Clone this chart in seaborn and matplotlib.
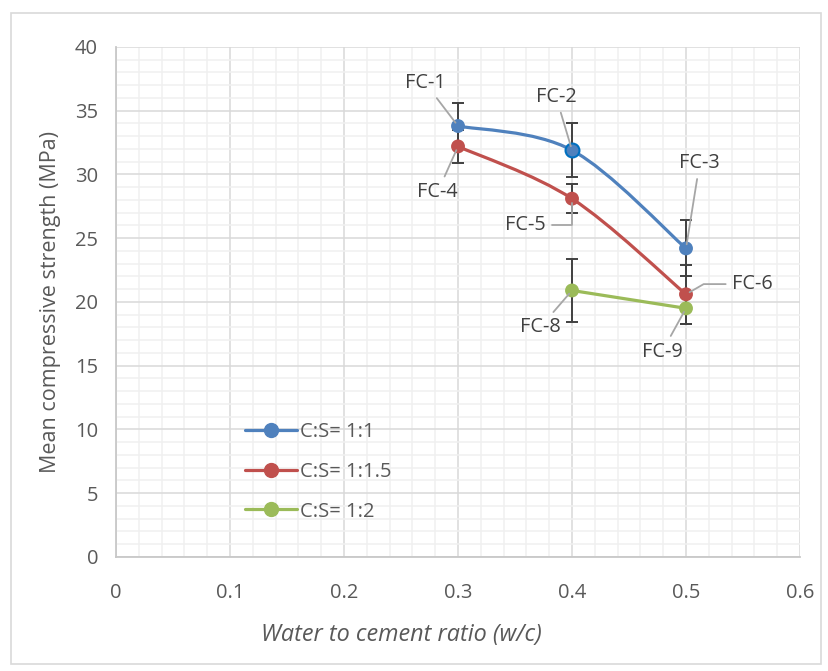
import numpy as np
import pandas as pd
import seaborn as sns
import matplotlib.pyplot as plt
from matplotlib.path import Path
from matplotlib.patches import PathPatch, Rectangle
from matplotlib.lines import Line2D
from matplotlib.ticker import MultipleLocator

# data
wc = [0.3, 0.4, 0.5]
cs_11 = [33.8, 31.9, 24.2]
cs_11_err = [1.8, 2.1, 2.2]
cs_115 = [32.2, 28.1, 20.6]
cs_115_err = [1.3, 1.15, 2.3]
wc_12 = [0.4, 0.5]
cs_12 = [20.9, 19.5]
cs_12_err = [2.5, 1.2]

series_names = ['C:S= 1:1', 'C:S= 1:1.5', 'C:S= 1:2']
labels_11 = ['FC-1', 'FC-2', 'FC-3']
labels_115 = ['FC-4', 'FC-5', 'FC-6']
labels_12 = ['FC-8', 'FC-9']

colors = ['#4F81BD', '#C0504D', '#9BBB59']
txt_color = '#595959'

df = pd.concat([
    pd.DataFrame({'wc': wc, 'strength': cs_11, 'err': cs_11_err, 'mix': series_names[0], 'label': labels_11}),
    pd.DataFrame({'wc': wc, 'strength': cs_115, 'err': cs_115_err, 'mix': series_names[1], 'label': labels_115}),
    pd.DataFrame({'wc': wc_12, 'strength': cs_12, 'err': cs_12_err, 'mix': series_names[2], 'label': labels_12}),
], ignore_index=True)

sns.set_theme(style='white')
plt.rcParams['font.family'] = ['Open Sans', 'DejaVu Sans']

fig = plt.figure(figsize=(8.29, 6.71), dpi=100)
ax = fig.add_axes([0.14, 0.17, 0.825, 0.76])

# outer chart border
fig.patches.append(Rectangle((0.013, 0.01), 0.977, 0.97, transform=fig.transFigure,
                             fill=False, edgecolor='#D9D9D9', lw=1.2))


def smooth_path(xs, ys):
    # Excel-style smoothed line (Catmull-Rom turned into Bezier segments)
    pts = np.column_stack([xs, ys])
    verts = [pts[0]]
    codes = [Path.MOVETO]
    for i in range(len(pts) - 1):
        p0 = pts[max(i - 1, 0)]
        p1 = pts[i]
        p2 = pts[i + 1]
        p3 = pts[min(i + 2, len(pts) - 1)]
        verts += [p1 + (p2 - p0) / 6, p2 - (p3 - p1) / 6, p2]
        codes += [Path.CURVE4] * 3
    return Path(verts, codes)


for name, col in zip(series_names, colors):
    sub = df[df['mix'] == name]
    ax.add_patch(PathPatch(smooth_path(sub['wc'].values, sub['strength'].values),
                           fill=False, edgecolor=col, lw=2.3, zorder=3))
    ax.errorbar(sub['wc'], sub['strength'], yerr=sub['err'], fmt='none',
                ecolor='#404040', elinewidth=1.4, capsize=4.3, capthick=1.4, zorder=2)

sns.scatterplot(data=df, x='wc', y='strength', hue='mix', palette=colors,
                s=100, edgecolor=None, linewidth=0, legend=False, zorder=4, ax=ax)
# FC-2 point shows a darker outline
ax.scatter([wc[1]], [cs_11[1]], s=100, facecolor=colors[0], edgecolor='#0070C0',
           linewidth=1.5, zorder=5)

# data labels with leader lines
label_pos = {
    'FC-1': (0.271, 37.2, 'arc3'), 'FC-2': (0.386, 36.1, 'arc3'), 'FC-3': (0.512, 30.9, 'arc3'),
    'FC-4': (0.282, 28.6, 'arc3'), 'FC-5': (0.359, 26.0, 'angle,angleA=0,angleB=90,rad=0'),
    'FC-6': (0.558, 21.4, 'angle,angleA=180,angleB=30,rad=0'),
    'FC-8': (0.372, 18.0, 'arc3'), 'FC-9': (0.479, 16.1, 'arc3'),
}
for _, row in df.iterrows():
    tx, ty, cst = label_pos[row['label']]
    ax.annotate(row['label'], xy=(row['wc'], row['strength']), xytext=(tx, ty),
                ha='center', va='center', fontsize=14.3, color='#404040', zorder=6,
                arrowprops=dict(arrowstyle='-', color='#A6A6A6', lw=1.3,
                                shrinkA=2, shrinkB=3, connectionstyle=cst))

ax.set_xlim(0, 0.6)
ax.set_ylim(0, 40)
ax.xaxis.set_major_locator(MultipleLocator(0.1))
ax.xaxis.set_minor_locator(MultipleLocator(0.02))
ax.yaxis.set_major_locator(MultipleLocator(5))
ax.yaxis.set_minor_locator(MultipleLocator(1))
ax.set_xticks(np.arange(0, 0.61, 0.1))
ax.set_xticklabels(['0', '0.1', '0.2', '0.3', '0.4', '0.5', '0.6'])
ax.grid(which='major', color='#D9D9D9', lw=1.1, zorder=0)
ax.grid(which='minor', color='#F0F0F0', lw=1.1, zorder=0)
ax.set_axisbelow(True)
for side in ['top', 'right']:
    ax.spines[side].set_visible(False)
for side in ['left', 'bottom']:
    ax.spines[side].set_color('#C8C8C8')
    ax.spines[side].set_linewidth(1.3)
ax.tick_params(which='both', length=0, labelsize=14.5, labelcolor=txt_color)
ax.tick_params(axis='x', pad=19)
ax.tick_params(axis='y', pad=13)

ax.set_xlabel('Water to cement ratio (w/c)', fontsize=16.8, color=txt_color, style='italic')
ax.xaxis.set_label_coords(0.417, -0.13)
ax.set_ylabel('Mean compressive strength (MPa)', fontsize=15.5, color=txt_color, labelpad=10)

handles = [Line2D([0], [0], color=c, lw=2.3, marker='o', markersize=10) for c in colors]
ax.legend(handles, series_names, loc='upper left', bbox_to_anchor=(0.162, 0.30),
          frameon=False, fontsize=14.5, labelcolor=txt_color, handlelength=2.6,
          handletextpad=0.15, labelspacing=0.98)

fig.savefig('out.png', dpi=100)
